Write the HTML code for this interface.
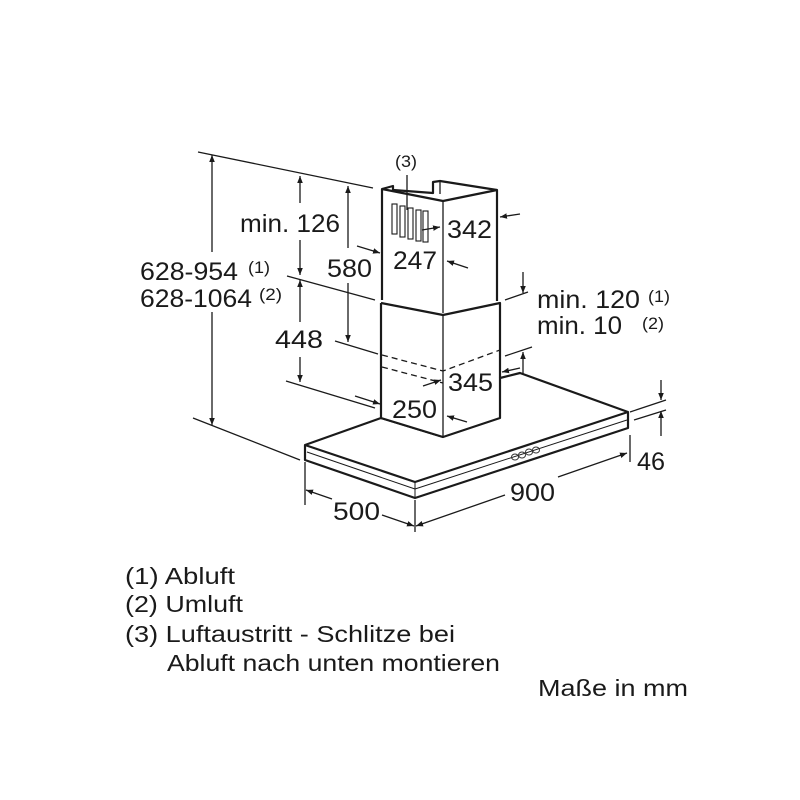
<!DOCTYPE html>
<html><head><meta charset="utf-8"><style>
html,body{margin:0;padding:0;background:#fff;}
svg{display:block;}
text{font-family:"Liberation Sans",Arial,sans-serif;fill:#1a1a1a;}
</style></head><body>
<svg width="800" height="800" viewBox="0 0 800 800" xmlns="http://www.w3.org/2000/svg">
<defs>
<marker id="a" viewBox="0 0 10 10" refX="10" refY="5" markerWidth="7" markerHeight="7" orient="auto-start-reverse" markerUnits="userSpaceOnUse"><path d="M0,1 L10,5 L0,9 z" fill="#1a1a1a"/></marker>
</defs>
<g stroke="#1a1a1a" fill="none" stroke-width="1.3">
<line x1="198" y1="152" x2="373" y2="188"/>
<line x1="287" y1="276" x2="375" y2="300"/>
<line x1="335" y1="341" x2="378" y2="354"/>
<line x1="286" y1="381" x2="375" y2="408"/>
<line x1="193" y1="418" x2="300" y2="460"/>
<line x1="212" y1="155" x2="212" y2="252" marker-start="url(#a)"/>
<line x1="212" y1="312" x2="212" y2="425" marker-end="url(#a)"/>
<line x1="300" y1="176" x2="300" y2="203" marker-start="url(#a)"/>
<line x1="300" y1="240" x2="300" y2="275" marker-end="url(#a)"/>
<line x1="300" y1="280" x2="300" y2="322" marker-start="url(#a)"/>
<line x1="300" y1="357" x2="300" y2="382" marker-end="url(#a)"/>
<line x1="348" y1="186" x2="348" y2="248" marker-start="url(#a)"/>
<line x1="348" y1="283" x2="348" y2="342" marker-end="url(#a)"/>
<line x1="357" y1="246" x2="380" y2="253" marker-end="url(#a)"/>
<line x1="468" y1="268" x2="447" y2="261" marker-end="url(#a)"/>
<line x1="422" y1="230" x2="440" y2="227" marker-end="url(#a)"/>
<line x1="520" y1="214" x2="500" y2="217" marker-end="url(#a)"/>
<line x1="355" y1="396" x2="380" y2="404" marker-end="url(#a)"/>
<line x1="467" y1="422" x2="447" y2="416" marker-end="url(#a)"/>
<line x1="423" y1="386" x2="441" y2="380" marker-end="url(#a)"/>
<line x1="520" y1="368" x2="502" y2="372" marker-end="url(#a)"/>
<line x1="505" y1="300" x2="528" y2="292"/>
<line x1="523" y1="272" x2="523" y2="293" marker-end="url(#a)"/>
<line x1="505" y1="356" x2="532" y2="347"/>
<line x1="523" y1="375" x2="523" y2="352" marker-end="url(#a)"/>
<line x1="630" y1="412" x2="666" y2="400"/>
<line x1="634" y1="420" x2="666" y2="410"/>
<line x1="661" y1="380" x2="661" y2="400" marker-end="url(#a)"/>
<line x1="661" y1="436" x2="661" y2="411" marker-end="url(#a)"/>
<line x1="630" y1="435" x2="630" y2="462"/>
<line x1="305" y1="462" x2="305" y2="505"/>
<line x1="415" y1="500" x2="415" y2="532"/>
<line x1="306" y1="490" x2="332" y2="499" marker-start="url(#a)"/>
<line x1="382" y1="515" x2="414" y2="526" marker-end="url(#a)"/>
<line x1="416" y1="526" x2="505" y2="495" marker-start="url(#a)"/>
<line x1="558" y1="477" x2="627" y2="453" marker-end="url(#a)"/>
<line x1="407" y1="175" x2="407" y2="210"/>
</g>
<g stroke="#1a1a1a" fill="#fff" stroke-width="2.2" stroke-linejoin="round">
<path d="M305,445 L381,418 L443,437 L500,418 L500,378 L520,373 L628,412 L628,428 L415,498 L305,460 Z"/>
<path d="M305,445 L415,482 L628,412" fill="none"/>
<line x1="415" y1="482" x2="415" y2="498" stroke-width="1"/>
<path d="M307,452 L415,489 L627,420" fill="none" stroke-width="1"/>
<path d="M381,303 L443,315 L500,303 L500,378 M381,303 L381,418 L443,437" />
<line x1="443" y1="315" x2="443" y2="437" stroke-width="1.3"/>
<path d="M382,300 L382,189 L393,186 L393,190 L433,193 L433,182 L440,181 L497,190 L497,301" fill="none"/>
<path d="M382,189 L443,201 L497,190" fill="none"/>
<line x1="443" y1="201" x2="443" y2="313" stroke-width="1.3"/>
<line x1="440" y1="181" x2="440" y2="194" stroke-width="1.3"/>
</g>
<g stroke="#1a1a1a" stroke-width="1.3" stroke-dasharray="6,4" fill="none">
<path d="M382,355 L443,371 L500,350"/>
<path d="M382,367 L443,383"/>
</g>
<g stroke="#1a1a1a" stroke-width="1.1" fill="none">
<rect x="392" y="204" width="5" height="30"/>
<rect x="400" y="206" width="5" height="31"/>
<rect x="408" y="208" width="5" height="31"/>
<rect x="416" y="210" width="5" height="31"/>
<rect x="423" y="211" width="5" height="31"/>
</g>
<g stroke="#333" stroke-width="1" fill="none">
<ellipse cx="515" cy="457" rx="3.5" ry="3"/>
<ellipse cx="522" cy="455" rx="3.5" ry="3"/>
<ellipse cx="529" cy="452" rx="3.5" ry="3"/>
<ellipse cx="536" cy="450" rx="3.5" ry="3"/>
</g>
<g font-size="25">
<text x="240" y="232" textLength="100" lengthAdjust="spacingAndGlyphs">min. 126</text>
<text x="327" y="277" textLength="45" lengthAdjust="spacingAndGlyphs">580</text>
<text x="275" y="348" textLength="48" lengthAdjust="spacingAndGlyphs">448</text>
<text x="140" y="280" textLength="98" lengthAdjust="spacingAndGlyphs">628-954</text>
<text x="140" y="307" textLength="112" lengthAdjust="spacingAndGlyphs">628-1064</text>
<text x="447" y="238" textLength="45" lengthAdjust="spacingAndGlyphs">342</text>
<text x="393" y="269" textLength="44" lengthAdjust="spacingAndGlyphs">247</text>
<text x="448" y="391" textLength="45" lengthAdjust="spacingAndGlyphs">345</text>
<text x="392" y="418" textLength="45" lengthAdjust="spacingAndGlyphs">250</text>
<text x="537" y="308" textLength="103" lengthAdjust="spacingAndGlyphs">min. 120</text>
<text x="537" y="334" textLength="85" lengthAdjust="spacingAndGlyphs">min. 10</text>
<text x="637" y="470" textLength="28" lengthAdjust="spacingAndGlyphs">46</text>
<text x="333" y="520" textLength="47" lengthAdjust="spacingAndGlyphs">500</text>
<text x="510" y="501" textLength="45" lengthAdjust="spacingAndGlyphs">900</text>
</g>
<g font-size="17">
<text x="395" y="167" textLength="22" lengthAdjust="spacingAndGlyphs">(3)</text>
<text x="248" y="273" textLength="22" lengthAdjust="spacingAndGlyphs">(1)</text>
<text x="259" y="300" textLength="23" lengthAdjust="spacingAndGlyphs">(2)</text>
<text x="648" y="302" textLength="22" lengthAdjust="spacingAndGlyphs">(1)</text>
<text x="642" y="329" textLength="22" lengthAdjust="spacingAndGlyphs">(2)</text>
</g>
<g font-size="23">
<text x="125" y="584" textLength="110" lengthAdjust="spacingAndGlyphs">(1) Abluft</text>
<text x="125" y="612" textLength="118" lengthAdjust="spacingAndGlyphs">(2) Umluft</text>
<text x="125" y="642" textLength="330" lengthAdjust="spacingAndGlyphs">(3) Luftaustritt - Schlitze bei</text>
<text x="167" y="671" textLength="333" lengthAdjust="spacingAndGlyphs">Abluft nach unten montieren</text>
<text x="538" y="696" textLength="150" lengthAdjust="spacingAndGlyphs">Maße in mm</text>
</g>
</svg>
</body></html>
